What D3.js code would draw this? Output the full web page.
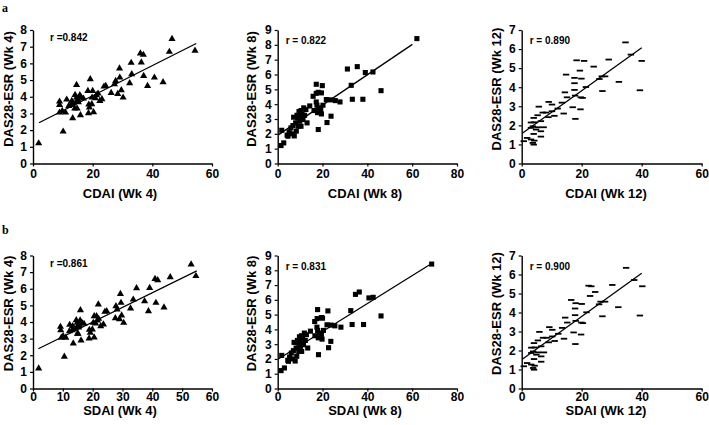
<!DOCTYPE html>
<html><head><meta charset="utf-8">
<script src="https://cdn.jsdelivr.net/npm/d3@7/dist/d3.min.js"></script>
<style>body{margin:0;background:#fff}svg{display:block}</style>
</head><body>
<script>
// ---- Week 4 ----
const cdaiWk4 = [1.9,10.1,46.6,45.7,54.3,36.0,37.0,32.9,36.3,29.0,19.2,33.1,29.1,40.7,37.1,43.6,38.4,32.4,27.7,27.3,24.4,23.8,26.2,28.4,29.6,30.2,14.6,18.4,20.0,21.8,21.3,23.1,22.4,19.8,20.9,19.7,18.7,18.9,18.6,20.3,15.9,13.3,8.9,8.9,8.9,9.8,10.9,11.3,12.8,13.6,14.0,14.8,14.6,14.1,15.7,16.2,15.2,16.9,13.0,12.0,14.6,15.1];
const sdaiWk4 = [1.9,10.5,53.0,46.0,54.6,40.9,41.8,34.7,39.1,29.3,21.9,33.6,29.5,41.2,37.4,43.9,38.7,32.7,27.8,28.2,24.7,24.1,27.6,29.0,29.7,30.4,15.9,20.5,21.3,22.0,21.6,23.6,22.7,20.2,21.0,19.9,18.9,19.2,18.8,20.5,16.1,13.5,9.2,9.3,9.5,10.1,11.0,12.3,13.2,13.8,14.9,15.1,14.8,14.5,15.8,16.4,15.3,17.1,13.3,12.2,14.9,15.5];
const das28Wk4 = [1.25,1.95,7.5,6.73,6.8,6.63,6.55,6.07,6.09,5.73,5.09,5.39,5.19,5.19,5.29,4.91,4.69,4.85,4.99,4.79,4.69,4.65,4.27,4.21,4.43,3.99,4.75,4.39,4.39,4.23,4.13,3.89,3.79,3.99,3.95,3.59,3.57,3.39,3.05,3.11,2.93,2.75,3.75,3.55,3.09,3.19,3.09,3.87,3.55,3.63,3.33,3.33,3.99,4.15,4.13,3.99,3.71,3.93,3.79,3.49,3.79,3.85];
// ---- Week 8 ----
const cdaiWk8 = [62.1,31.1,35.5,39.1,42.5,46.1,32.8,33.3,38.0,17.2,19.9,15.8,17.2,18.1,19.5,21.7,23.5,25.7,27.8,23.8,22.0,18.1,1.8,1.5,2.7,4.2,5.1,7.4,6.4,14.3,17.2,17.5,18.3,19.2,19.5,17.8,16.2,20.2,11.6,12.6,10.4,9.8,8.6,7.1,8.9,10.9,12.0,13.1,11.3,9.8,8.0,9.1,10.4,6.8,5.9,8.3,4.6,9.5,10.6];
const sdaiWk8 = [68.7,34.7,36.4,40.7,42.6,46.1,32.6,33.2,38.3,17.8,22.4,16.5,17.6,19.5,20.0,22.0,23.9,25.5,28.2,23.7,22.7,18.2,1.8,1.5,3.0,4.5,5.3,7.8,6.6,14.6,17.5,17.8,18.6,19.5,19.8,18.1,16.6,20.4,11.9,12.8,10.6,10.0,8.8,7.3,9.2,11.1,12.3,13.4,11.5,10.1,8.2,9.4,10.7,7.0,6.1,8.5,4.8,9.7,10.8];
const das28Wk8 = [8.42,6.37,6.53,6.13,6.17,4.91,5.27,4.33,4.33,5.34,5.25,4.53,4.73,4.80,4.76,4.31,4.29,4.24,4.15,3.19,2.76,2.29,2.24,1.21,1.39,1.91,2.13,1.86,2.0,3.88,4.15,3.93,3.75,3.64,3.34,3.43,3.57,3.93,3.75,3.64,3.57,3.41,3.25,3.12,3.07,3.34,3.25,2.74,2.96,2.85,2.74,2.51,2.51,2.56,2.40,2.18,1.84,3.5,3.1];
// ---- Week 12 ----
const cdaiWk12 = [34.6,36.4,40.0,18.3,20.8,29.0,24.0,19.4,14.8,17.6,19.9,25.9,26.7,27.8,32.4,17.6,21.4,26.9,39.4,14.4,17.6,15.1,17.8,19.7,20.3,13.4,9.0,10.1,5.7,17.0,19.6,12.0,7.0,8.1,10.1,14.0,17.9,10.9,4.0,5.3,8.9,3.1,4.2,6.4,5.3,3.7,7.3,3.1,4.8,6.4,4.0,6.4,1.8,3.1,4.2,0.7,3.7,4.0];
const sdaiWk12 = [34.8,37.5,40.2,22.3,23.2,30.2,24.5,22.8,16.5,18.0,20.0,25.8,26.3,27.8,32.2,17.8,21.6,26.9,39.4,14.5,17.8,15.2,18.0,19.9,20.4,13.5,9.2,10.2,5.9,17.3,19.8,12.2,7.1,8.3,10.2,14.1,17.9,11.0,4.1,5.4,9.0,3.2,4.3,6.5,5.4,3.8,7.4,3.2,4.9,6.5,4.1,6.5,1.8,3.2,4.3,0.7,3.8,4.1];
const das28Wk12 = [6.35,5.71,5.38,5.41,5.38,5.45,5.08,4.87,4.66,4.49,4.45,4.43,4.57,4.57,4.28,4.21,4.01,3.80,3.84,3.73,3.86,3.47,3.56,3.47,3.44,3.19,3.23,3.09,2.98,2.95,2.84,2.88,2.67,2.67,2.74,2.62,2.34,2.50,2.39,2.53,2.43,2.15,2.16,2.22,1.90,1.95,1.90,1.87,1.78,1.69,1.55,1.41,1.34,1.26,1.20,1.17,1.08,0.99];
// ---- labels / fits ----
const rLabels = ["r =0.842","r = 0.822","r = 0.890","r =0.861","r = 0.831","r = 0.900"];
const xTitles = ["CDAI (Wk 4)","CDAI (Wk 8)","CDAI (Wk 12)","SDAI (Wk 4)","SDAI (Wk 8)","SDAI (Wk 12)"];
const yTitles = ["DAS28-ESR (Wk 4)","DAS28-ESR (Wk 8)","DAS28-ESR (Wk 12)","DAS28-ESR (Wk 4)","DAS28-ESR (Wk 8)","DAS28-ESR (Wk 12)"];
const xMaxes = [60,80,60,60,80,60];
const xTickSteps = [20,20,20,10,20,20];
const yMaxes = [8,9,7,8,9,7];
const fitLines = [
  [[2.0,2.44],[54.7,7.19]],
  [[0.3,1.93],[60.1,8.03]],
  [[0.2,1.59],[40.0,6.07]],
  [[1.8,2.39],[54.9,7.08]],
  [[0.3,2.0],[67.8,8.37]],
  [[0.2,1.54],[40.0,6.07]]
];
const markerTypes = ["triangle","square","dash","triangle","square","dash"];
const panelLetters = ["a","b"];

const xs = [cdaiWk4,cdaiWk8,cdaiWk12,sdaiWk4,sdaiWk8,sdaiWk12];
const ys = [das28Wk4,das28Wk8,das28Wk12,das28Wk4,das28Wk8,das28Wk12];

// ---- layout ----
const W = 709, H = 425;
const colX = [[33,212],[277.7,457],[521.7,701.7]];
const rowY = [[163.5,30],[388.5,255.5]];
const yTitleX = [8.5,251.5,496.5];
const yTitleCY = [89,313.5];
const xTitleCX = [120,365,606];
const xTitleY = [197.5,415];
const xTickPad = [3,1];

const svg = d3.select("body").append("svg").attr("width",W).attr("height",H)
  .style("font-family","'Liberation Sans', Arial, sans-serif");

svg.selectAll("text.letter").data(panelLetters).enter().append("text")
  .attr("class","letter")
  .attr("x",2).attr("y",(d,i)=> i===0 ? 12 : 234)
  .style("font-family","'Liberation Serif', 'Times New Roman', serif")
  .style("font-weight","bold").style("font-size","12px")
  .text(d=>d);

for (let p = 0; p < 6; p++) {
  const col = p % 3, row = Math.floor(p/3);
  const x = d3.scaleLinear().domain([0,xMaxes[p]]).range(colX[col]);
  const y = d3.scaleLinear().domain([0,yMaxes[p]]).range(rowY[row]);
  const g = svg.append("g");

  const xAxis = d3.axisBottom(x).tickValues(d3.range(0,xMaxes[p]+0.001,xTickSteps[p]))
    .tickFormat(d3.format("d")).tickSize(3).tickPadding(xTickPad[row]).tickSizeOuter(0);
  const yAxis = d3.axisLeft(y).tickValues(d3.range(0,yMaxes[p]+0.001,1))
    .tickFormat(d3.format("d")).tickSize(3).tickPadding(3).tickSizeOuter(0);
  const gx = g.append("g").attr("transform",`translate(0,${rowY[row][0]})`).call(xAxis);
  const gy = g.append("g").attr("transform",`translate(${colX[col][0]},0)`).call(yAxis);
  [gx,gy].forEach(a=>{
    a.select(".domain").attr("stroke","#000").attr("stroke-width",1.4);
    a.selectAll(".tick line").attr("stroke","#000").attr("stroke-width",1.2);
    a.selectAll(".tick text").attr("fill","#000").style("font-size","12px").style("font-weight","bold")
      .style("font-family","'Liberation Sans', Arial, sans-serif");
  });

  // fit line
  const line = d3.line().x(d=>x(d[0])).y(d=>y(d[1]));
  g.append("path").datum(fitLines[p]).attr("d",line).attr("stroke","#000").attr("stroke-width",1.3).attr("fill","none");

  const pts = xs[p].map((v,i)=>[v, ys[p][i]]);
  const mt = markerTypes[p];
  if (mt === "dash") {
    g.selectAll("rect.pt").data(pts).enter().append("rect").attr("class","pt")
      .attr("x",d=>x(d[0])-3.2).attr("y",d=>y(d[1])-0.9).attr("width",6.4).attr("height",1.8).attr("fill","#000");
  } else {
    const sym = d3.symbol().type(mt==="triangle"? d3.symbolTriangle : d3.symbolSquare).size(mt==="triangle"? 22 : 26);
    g.selectAll("path.pt").data(pts).enter().append("path").attr("class","pt")
      .attr("transform",d=>`translate(${x(d[0])},${y(d[1]) + (mt==="triangle"?0.6:0)})`)
      .attr("d",sym).attr("fill","#000");
  }

  // r label
  g.append("text").attr("x", colX[col][0] + (col===0 ? 17 : 8)).attr("y", rowY[row][1] + (col===0 ? 11 : 14))
    .style("font-size","10px").style("font-weight","bold").text(rLabels[p]);

  // axis titles
  g.append("text").attr("x",xTitleCX[col]).attr("y",xTitleY[row]).attr("text-anchor","middle")
    .style("font-size","13px").style("font-weight","bold").text(xTitles[p]);
  g.append("text").attr("transform",`translate(${yTitleX[col]+4.5},${yTitleCY[row]}) rotate(-90)`).attr("text-anchor","middle")
    .style("font-size","13px").style("font-weight","bold").text(yTitles[p]);
}
</script>
</body></html>
